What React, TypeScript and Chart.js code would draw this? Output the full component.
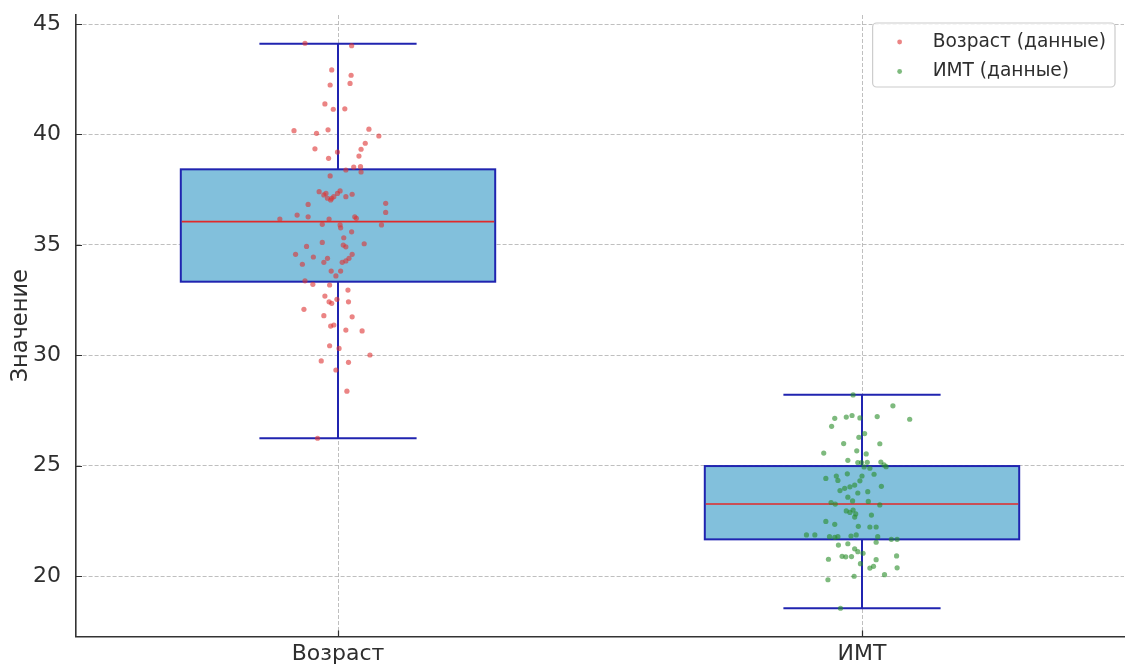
import React, { useEffect, useRef } from "react";
import { Chart, registerables } from "chart.js";

Chart.register(...registerables);

// ---------- data ----------
const categories = ["Возраст", "ИМТ"];
const positions = [1, 2];
const whiskerLow = [26.24, 18.54];
const q1 = [33.33, 21.66];
const medians = [36.05, 23.26];
const q3 = [38.42, 24.98];
const whiskerHigh = [44.11, 28.21];
const yTicks = [20, 25, 30, 35, 40, 45];
const seriesLabels = ["Возраст (данные)", "ИМТ (данные)"];

const ageJitter = [
  -0.063, 0.026, -0.012, 0.025, -0.015, 0.023, -0.025, -0.009, 0.013, -0.084,
  -0.041, -0.019, 0.059, 0.078, 0.052, -0.044, 0.044, -0.001, -0.018, 0.04,
  0.015, 0.03, 0.043, 0.044, -0.015, -0.036, -0.027, -0.02, -0.014, -0.008,
  -0.001, 0.004, 0.015, 0.027, -0.023, -0.012, -0.057, 0.091, 0.091, -0.078,
  -0.057, -0.111, -0.017, -0.03, 0.004, 0.005, 0.032, 0.035, 0.083, 0.026,
  -0.03, 0.011, 0.01, 0.015, 0.05, -0.06, -0.081, -0.047, 0.027, 0.021,
  0.015, 0.008, -0.02, -0.027, -0.068, -0.013, 0.005, -0.004, -0.063, -0.048,
  -0.016, 0.019, -0.025, -0.017, -0.012, -0.002, 0.02, -0.065, -0.027, 0.027,
  -0.014, -0.008, 0.015, 0.046, -0.016, 0.002, 0.061, -0.032, 0.02, -0.004,
  0.017, -0.039,
];
const ageValues = [
  44.13, 44.02, 42.92, 42.68, 42.24, 42.31, 41.38, 41.14, 41.16, 40.17,
  40.05, 40.21, 40.24, 39.93, 39.6, 39.35, 39.33, 39.2, 38.92, 39.02,
  38.39, 38.52, 38.54, 38.3, 38.12, 37.41, 37.26, 37.11, 37.03, 37.18,
  37.33, 37.44, 37.18, 37.29, 37.33, 37.11, 36.83, 36.88, 36.47, 36.35,
  36.27, 36.17, 36.17, 35.93, 35.9, 35.77, 36.27, 36.2, 35.9, 35.59,
  35.11, 35.32, 34.99, 34.91, 35.05, 34.93, 34.57, 34.45, 34.57, 34.39,
  34.27, 34.21, 34.39, 34.21, 34.12, 33.81, 33.81, 33.59, 33.37, 33.21,
  33.18, 32.95, 32.68, 32.42, 32.35, 32.53, 32.42, 32.08, 31.79, 31.74,
  31.32, 31.37, 31.14, 31.1, 30.43, 30.31, 30.01, 29.74, 29.68, 29.33,
  28.37, 26.24,
];

const bmiJitter = [
  -0.017, 0.059, -0.052, -0.03, -0.019, -0.004, 0.029, 0.091, -0.058, 0.005,
  -0.006, -0.035, 0.034, -0.01, -0.073, 0.008, -0.027, -0.008, -0.001, 0.01,
  0.036, 0.042, 0.004, 0.015, -0.069, -0.049, -0.046, -0.028, 0.0, 0.023,
  0.046, 0.037, -0.042, -0.033, -0.023, -0.014, -0.004, -0.008, 0.011, -0.027,
  -0.059, -0.051, -0.018, 0.012, 0.034, -0.03, -0.023, -0.017, -0.012, -0.014,
  0.018, -0.069, -0.052, -0.007, 0.015, 0.027, -0.106, -0.09, -0.062, -0.052,
  -0.046, -0.021, -0.011, 0.03, 0.027, 0.056, 0.067, -0.045, -0.027, -0.014,
  -0.008, 0.002, -0.038, -0.031, -0.02, 0.066, -0.064, 0.027, -0.003, 0.015,
  0.022, 0.067, -0.015, 0.043, -0.065, -0.041,
];
const bmiValues = [
  28.2, 27.71, 27.14, 27.2, 27.27, 27.16, 27.22, 27.1, 26.78, 26.45,
  26.28, 26.0, 25.99, 25.67, 25.57, 25.53, 25.24, 25.14, 25.14, 25.15,
  25.16, 25.03, 24.94, 24.88, 24.42, 24.53, 24.33, 24.63, 24.53, 24.61,
  24.95, 24.06, 23.87, 23.97, 24.04, 24.12, 24.31, 23.76, 23.82, 23.57,
  23.33, 23.26, 23.4, 23.38, 23.22, 22.95, 22.88, 22.99, 22.81, 22.67,
  22.76, 22.47, 22.34, 22.25, 22.22, 22.22, 21.86, 21.86, 21.78, 21.75,
  21.78, 21.81, 21.86, 21.78, 21.53, 21.66, 21.66, 21.4, 21.46, 21.23,
  21.1, 21.03, 20.89, 20.87, 20.88, 20.91, 20.76, 20.74, 20.56, 20.36,
  20.44, 20.37, 19.99, 20.06, 19.83, 18.54,
];

// ---------- styles ----------
const FONT = "'DejaVu Sans', sans-serif";
const TEXT_COLOR = "#2e2e2e";
const BOX_FILL = "#82c0dc";
const BOX_EDGE = "#2024b0";
const MEDIAN_COLOR = "#e02a2a";
const BOX_W = 0.6;
const CAP_W = 0.3;
const POINT_COLORS = ["rgba(222,50,50,0.6)", "rgba(40,140,40,0.6)"];
const LEGEND_FONT = 18.6;

const boxPlugin = {
  id: "boxes",
  beforeDatasetsDraw(chart: any) {
    const { ctx } = chart;
    const x = chart.scales.x;
    const y = chart.scales.y;
    ctx.save();
    positions.forEach((p, i) => {
      const xl = x.getPixelForValue(p - BOX_W / 2);
      const xr = x.getPixelForValue(p + BOX_W / 2);
      const xc = x.getPixelForValue(p);
      const cl = x.getPixelForValue(p - CAP_W / 2);
      const cr = x.getPixelForValue(p + CAP_W / 2);
      const yq1 = y.getPixelForValue(q1[i]);
      const yq3 = y.getPixelForValue(q3[i]);
      const ymed = y.getPixelForValue(medians[i]);
      const ylo = y.getPixelForValue(whiskerLow[i]);
      const yhi = y.getPixelForValue(whiskerHigh[i]);
      ctx.fillStyle = BOX_FILL;
      ctx.fillRect(xl, yq3, xr - xl, yq1 - yq3);
      ctx.strokeStyle = BOX_EDGE;
      ctx.lineWidth = 2;
      ctx.strokeRect(xl, yq3, xr - xl, yq1 - yq3);
      ctx.beginPath();
      ctx.moveTo(xc, yq3);
      ctx.lineTo(xc, yhi);
      ctx.moveTo(xc, yq1);
      ctx.lineTo(xc, ylo);
      ctx.moveTo(cl, yhi);
      ctx.lineTo(cr, yhi);
      ctx.moveTo(cl, ylo);
      ctx.lineTo(cr, ylo);
      ctx.stroke();
      ctx.strokeStyle = MEDIAN_COLOR;
      ctx.lineWidth = 1.6;
      ctx.beginPath();
      ctx.moveTo(xl + 1, ymed);
      ctx.lineTo(xr - 1, ymed);
      ctx.stroke();
    });
    ctx.restore();
  },
  afterDraw(chart: any) {
    const { ctx, chartArea } = chart;
    const x = chart.scales.x;
    const y = chart.scales.y;
    ctx.save();
    // inward ticks
    ctx.strokeStyle = TEXT_COLOR;
    ctx.lineWidth = 1.2;
    ctx.beginPath();
    yTicks.forEach((v) => {
      const py = Math.round(y.getPixelForValue(v)) + 0.5;
      ctx.moveTo(chartArea.left, py);
      ctx.lineTo(chartArea.left + 6, py);
    });
    positions.forEach((p) => {
      const px = Math.round(x.getPixelForValue(p)) + 0.5;
      ctx.moveTo(px, chartArea.bottom);
      ctx.lineTo(px, chartArea.bottom - 6);
    });
    ctx.stroke();

    // legend
    ctx.font = `${LEGEND_FONT}px ${FONT}`;
    const textW = Math.max(...seriesLabels.map((l) => ctx.measureText(l).width));
    const boxW = 60 + textW + 9;
    const boxH = 64;
    const right = chartArea.right - 9;
    const top = chartArea.top + 8;
    const left = right - boxW;
    ctx.beginPath();
    ctx.roundRect(left, top, boxW, boxH, 4);
    ctx.fillStyle = "rgba(255,255,255,0.85)";
    ctx.fill();
    ctx.strokeStyle = "#cccccc";
    ctx.lineWidth = 1.2;
    ctx.stroke();
    seriesLabels.forEach((label, i) => {
      const cy = top + 19 + i * 29.5;
      ctx.beginPath();
      ctx.arc(left + 27, cy, 2.4, 0, Math.PI * 2);
      ctx.fillStyle = POINT_COLORS[i];
      ctx.fill();
      ctx.fillStyle = TEXT_COLOR;
      ctx.textBaseline = "middle";
      ctx.textAlign = "left";
      ctx.fillText(label, left + 60, cy);
    });
    ctx.restore();
  },
};

export default function App() {
  const canvasRef = useRef<HTMLCanvasElement | null>(null);

  useEffect(() => {
    const canvas = canvasRef.current;
    if (!canvas) return;
    const datasets = [
      {
        label: seriesLabels[0],
        data: ageValues.map((v, i) => ({ x: positions[0] + ageJitter[i], y: v })),
        backgroundColor: POINT_COLORS[0],
        borderWidth: 0,
        pointRadius: 2.6,
      },
      {
        label: seriesLabels[1],
        data: bmiValues.map((v, i) => ({ x: positions[1] + bmiJitter[i], y: v })),
        backgroundColor: POINT_COLORS[1],
        borderWidth: 0,
        pointRadius: 2.6,
      },
    ];
    const chart = new Chart(canvas, {
      type: "scatter",
      data: { datasets },
      options: {
        animation: false,
        responsive: false,
        devicePixelRatio: 1,
        layout: { padding: { left: 0, right: 1, top: 15, bottom: 0 } },
        plugins: {
          legend: { display: false },
          tooltip: { enabled: false },
        },
        scales: {
          x: {
            type: "linear",
            min: 0.5,
            max: 2.5,
            afterBuildTicks: (scale: any) => {
              scale.ticks = positions.map((p) => ({ value: p }));
            },
            afterFit: (scale: any) => {
              scale.height = 31.5;
              scale.paddingLeft = 0;
              scale.paddingRight = 0;
            },
            ticks: {
              callback: (v: any) => categories[Math.round(Number(v)) - 1] ?? "",
              color: TEXT_COLOR,
              font: { family: FONT, size: 22 },
              padding: 5,
              maxRotation: 0,
              autoSkip: false,
            },
            grid: {
              color: "rgba(175,175,175,0.8)",
              lineWidth: 1,
              drawTicks: false,
            },
            border: { display: true, color: "#333333", width: 1.6, dash: [4, 2] },
          },
          y: {
            type: "linear",
            min: 17.26,
            max: 45.41,
            afterBuildTicks: (scale: any) => {
              scale.ticks = yTicks.map((v) => ({ value: v }));
            },
            afterFit: (scale: any) => {
              scale.width = 76;
              scale.paddingTop = 0;
              scale.paddingBottom = 0;
            },
            ticks: {
              color: TEXT_COLOR,
              font: { family: FONT, size: 22 },
              padding: 15,
              autoSkip: false,
            },
            grid: {
              color: "rgba(175,175,175,0.8)",
              lineWidth: 1,
              drawTicks: false,
            },
            border: { display: true, color: "#333333", width: 1.6, dash: [4, 2] },
            title: {
              display: true,
              text: "Значение",
              color: TEXT_COLOR,
              font: { family: FONT, size: 22.5 },
              padding: { top: 8, bottom: 0 },
            },
          },
        },
      },
      plugins: [boxPlugin],
    } as any);
    return () => chart.destroy();
  }, []);

  return (
    <div style={{ position: "absolute", left: 0, top: 0, width: 1128, height: 668, background: "#fff" }}>
      <canvas ref={canvasRef} width={1128} height={668} style={{ display: "block" }} />
    </div>
  );
}
